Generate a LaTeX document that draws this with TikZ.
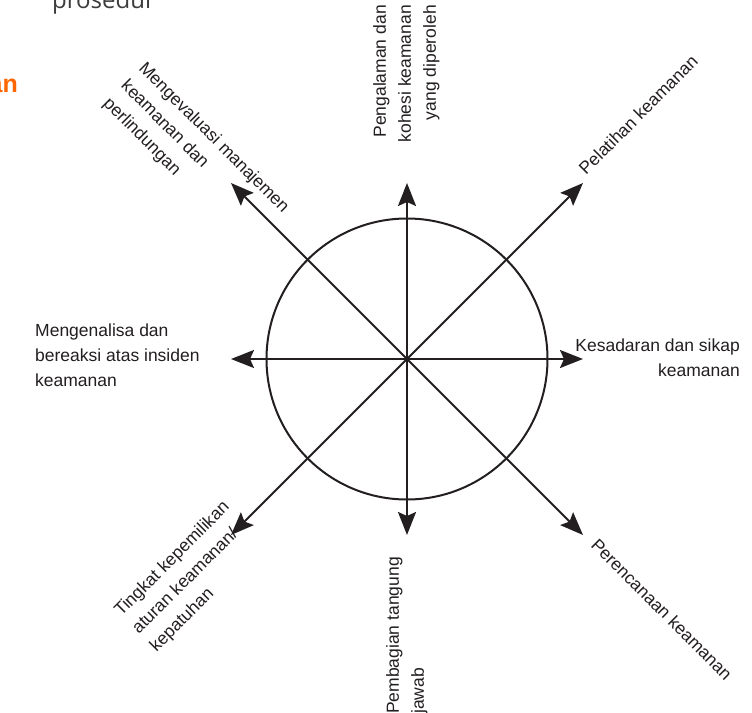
\documentclass[tikz,border=0pt]{standalone}
\usepackage{fontspec}
\setmainfont{Liberation Sans}
\newfontfamily\opensansfam{Open Sans}
\usetikzlibrary{arrows.meta}
\definecolor{ink}{HTML}{231F20}
\definecolor{orng}{HTML}{FF6600}
\definecolor{greytext}{HTML}{3C3C3C}
\tikzset{
  arr/.style={line width=2pt, draw=ink, -{Stealth[length=23pt,width=18pt,inset=4pt]}},
  lbl/.style={font=\fontsize{17.5}{25}\selectfont, text=ink, inner sep=0pt},
}
\begin{document}
\begin{tikzpicture}[x=1pt,y=-1pt]
\useasboundingbox (0,0) rectangle (752,712);
\fill[white] (0,0) rectangle (752,712);
\coordinate (c) at (407,359);
\node[circle, draw=ink, line width=2pt, minimum size=281pt, inner sep=0pt] (ring) at (c) {};
\coordinate (tN) at (407,183);
\coordinate (tS) at (407,535);
\coordinate (tE) at (583,359);
\coordinate (tW) at (231,359);
\coordinate (tNE) at (583,183);
\coordinate (tNW) at (231,183);
\coordinate (tSE) at (583,535);
\coordinate (tSW) at (231,535);
\foreach \t in {tN,tS,tE,tW,tNE,tNW,tSE,tSW} \draw[arr] (c) -- (\t);

\node[lbl, rotate=90, anchor=north east, align=right] (lN) at (373,5) {Pengalaman dan\\kohesi keamanan\\yang diperoleh};
\node[lbl, rotate=90, anchor=north west, align=left] (lS) at (386,714) {Pembagian tangung\\jawab};
\node[lbl, anchor=north west, align=left] (lW) at (35,324) {Mengenalisa dan\\bereaksi atas insiden\\keamanan};
\node[lbl, anchor=north east, align=right] (lE) at (740,339) {Kesadaran dan sikap\\keamanan};
\node[lbl, rotate=-45, anchor=north west, align=left] (lNW) at (147,60) {Mengevaluasi manajemen\\keamanan dan\\perlindungan};
\node[lbl, rotate=45, anchor=base west] (lNE) at (586,176) {Pelatihan keamanan};
\node[lbl, rotate=-45, anchor=north west] (lSE) at (599,537) {Perencanaan keamanan};
\node[lbl, rotate=45, anchor=north west, align=left] (lSW) at (112,608) {Tingkat kepemilikan\\aturan keamanan/\\kepatuhan};

\node[font=\opensansfam\fontsize{24}{28}\selectfont, text=greytext, anchor=base west, inner sep=0pt] (frag1) at (52,9) {prosedur};
\node[font=\bfseries\fontsize{25}{28}\selectfont, text=orng, anchor=base east, inner sep=0pt] (frag2) at (18,92) {an};
\end{tikzpicture}
\end{document}
